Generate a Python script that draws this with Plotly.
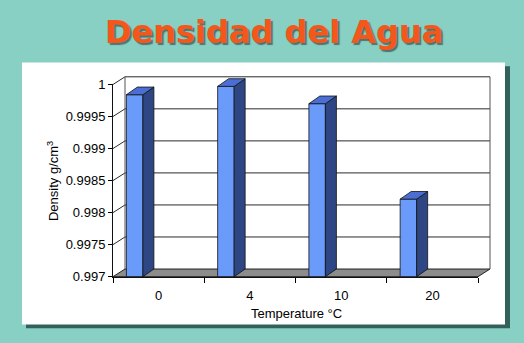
import plotly.graph_objects as go

# ---------------- data ----------------
CATEGORIES = ["0", "4", "10", "20"]
DENSITY = [0.99984, 0.99997, 0.99970, 0.99821]
Y_TICKS = [0.997, 0.9975, 0.998, 0.9985, 0.999, 0.9995, 1.0]
Y_TICK_TEXT = ["0.997", "0.9975", "0.998", "0.9985", "0.999", "0.9995", "1"]
Y_MIN, Y_MAX = 0.997, 1.0
TITLE = "Densidad del Agua"
X_TITLE = "Temperature °C"
Y_TITLE = "Density g/cm<sup>3</sup>"

# ---------------- geometry (pixels) ----------------
W, H = 524, 343
FX0, FX1 = 113, 478          # front frame left/right
FY_TOP, FY_BOT = 81, 282     # front frame top/bottom
DEPTH_X, DEPTH_Y = 12, 8     # 3-D wall depth
BAR_DEPTH_X, BAR_DEPTH_Y = 11, 8
BAR_OFF_PX, BAR_W_PX = 13.4, 16.5
PAD = 3

FONT = "Liberation Sans, Arial, sans-serif"

n = len(CATEGORIES)
kx = (FX1 - FX0) / n
ky = (FY_BOT - FY_TOP) / (Y_MAX - Y_MIN)
dx, dy = DEPTH_X / kx, DEPTH_Y / ky
bdx, bdy = BAR_DEPTH_X / kx, BAR_DEPTH_Y / ky
x_lo, x_hi = -0.5, n - 0.5
OFF = -0.5 + BAR_OFF_PX / kx
BW = BAR_W_PX / kx


def px_x(p):
    return p / W


def px_y(p):
    return 1 - p / H


fig = go.Figure()

# front faces of the bars
idx = list(range(n))
fig.add_trace(go.Bar(
    x=idx, y=[v - Y_MIN for v in DENSITY], base=Y_MIN,
    width=BW, offset=OFF,
    marker=dict(color="#6A9AFA", line=dict(color="#111111", width=0.8)),
    showlegend=False, hoverinfo="skip",
))

# side and top faces
sx, sy, tx, ty = [], [], [], []
for i, v in zip(idx, DENSITY):
    xl = i + OFF
    xr = xl + BW
    sx += [xr, xr + bdx, xr + bdx, xr, xr, None]
    sy += [Y_MIN, Y_MIN + bdy, v + bdy, v, Y_MIN, None]
    tx += [xl, xl + bdx, xr + bdx, xr, xl, None]
    ty += [v, v + bdy, v + bdy, v, v, None]

fig.add_trace(go.Scatter(x=sx, y=sy, mode="lines", fill="toself",
                         fillcolor="#2E4784", line=dict(color="#111111", width=0.8),
                         showlegend=False, hoverinfo="skip"))
fig.add_trace(go.Scatter(x=tx, y=ty, mode="lines", fill="toself",
                         fillcolor="#4A6ED4", line=dict(color="#111111", width=0.8),
                         showlegend=False, hoverinfo="skip"))

# invisible trace for the front axes
fig.add_trace(go.Scatter(x=CATEGORIES, y=[None] * n, xaxis="x2", yaxis="y2",
                         mode="markers", showlegend=False, hoverinfo="skip"))

shapes = []
# panel shadow + panel
shapes.append(dict(type="rect", xref="paper", yref="paper", layer="below",
                   x0=px_x(26), x1=px_x(510), y0=px_y(336), y1=px_y(62),
                   fillcolor="#32605A", line=dict(width=0)))
shapes.append(dict(type="rect", xref="paper", yref="paper", layer="below",
                   x0=px_x(22), x1=px_x(505), y0=px_y(332), y1=px_y(58),
                   fillcolor="white", line=dict(width=0)))
# floor
floor = (f"M {x_lo},{Y_MIN} L {x_hi},{Y_MIN} L {x_hi + dx},{Y_MIN + dy} "
         f"L {x_lo + dx},{Y_MIN + dy} Z")
shapes.append(dict(type="path", xref="x", yref="y", layer="below", path=floor,
                   fillcolor="#8C8C8C", line=dict(color="#222222", width=1)))
# back-wall gridlines and side-wall gridlines
for v in Y_TICKS[1:]:
    shapes.append(dict(type="line", xref="x", yref="y", layer="below",
                       x0=x_lo + dx, x1=x_hi + dx, y0=v + dy, y1=v + dy,
                       line=dict(color="#2A2A2A", width=1)))
    shapes.append(dict(type="line", xref="x", yref="y", layer="below",
                       x0=x_lo, x1=x_lo + dx, y0=v, y1=v + dy,
                       line=dict(color="#2A2A2A", width=1)))
# wall vertical edges
for xe in (x_lo + dx, x_hi + dx):
    shapes.append(dict(type="line", xref="x", yref="y", layer="below",
                       x0=xe, x1=xe, y0=Y_MIN + dy, y1=Y_MAX + dy,
                       line=dict(color="#555555", width=1)))

annotations = [
    dict(text=f"<b>{TITLE}</b>", xref="paper", yref="paper",
         x=px_x(274), y=px_y(26), xanchor="center", yanchor="middle",
         showarrow=False,
         font=dict(family="DejaVu Sans", size=32, color="#F5561A",
                   shadow="2px 2px 1px #4A7671")),
    dict(text=Y_TITLE, xref="paper", yref="paper", x=px_x(53), y=px_y(182),
         xanchor="center", yanchor="middle", textangle=-90, showarrow=False,
         font=dict(family=FONT, size=13, color="black")),
    dict(text=X_TITLE, xref="paper", yref="paper", x=px_x(296), y=px_y(320),
         xanchor="center", yanchor="middle", showarrow=False,
         font=dict(family=FONT, size=13, color="black")),
]

fig.update_layout(
    width=W, height=H, margin=dict(l=0, r=0, t=0, b=0),
    paper_bgcolor="#88CFC4", plot_bgcolor="rgba(0,0,0,0)",
    showlegend=False, shapes=shapes, annotations=annotations,
    xaxis=dict(domain=[px_x(FX0 - PAD), px_x(FX1 + DEPTH_X + PAD)],
               range=[x_lo - PAD / kx, x_hi + dx + PAD / kx],
               visible=False, fixedrange=True),
    yaxis=dict(domain=[px_y(FY_BOT + PAD), px_y(FY_TOP - DEPTH_Y - PAD)],
               range=[Y_MIN - PAD / ky, Y_MAX + dy + PAD / ky],
               visible=False, fixedrange=True),
    xaxis2=dict(domain=[px_x(FX0), px_x(FX1)], anchor="y2", type="category",
                categoryorder="array", categoryarray=CATEGORIES,
                range=[-0.5, n - 0.5], tickson="boundaries", ticks="outside",
                ticklen=5, tickcolor="black", showline=True, linecolor="#111111",
                showgrid=False, zeroline=False, ticklabelstandoff=7,
                tickfont=dict(family=FONT, size=13, color="black")),
    yaxis2=dict(domain=[px_y(FY_BOT), px_y(FY_TOP)], anchor="x2",
                range=[Y_MIN, Y_MAX], tickmode="array", tickvals=Y_TICKS,
                ticktext=Y_TICK_TEXT, ticks="outside", ticklen=4,
                tickcolor="black", showline=True, linecolor="#111111",
                showgrid=False, zeroline=False,
                tickfont=dict(family=FONT, size=13, color="black")),
)

fig.write_html("out.html")
